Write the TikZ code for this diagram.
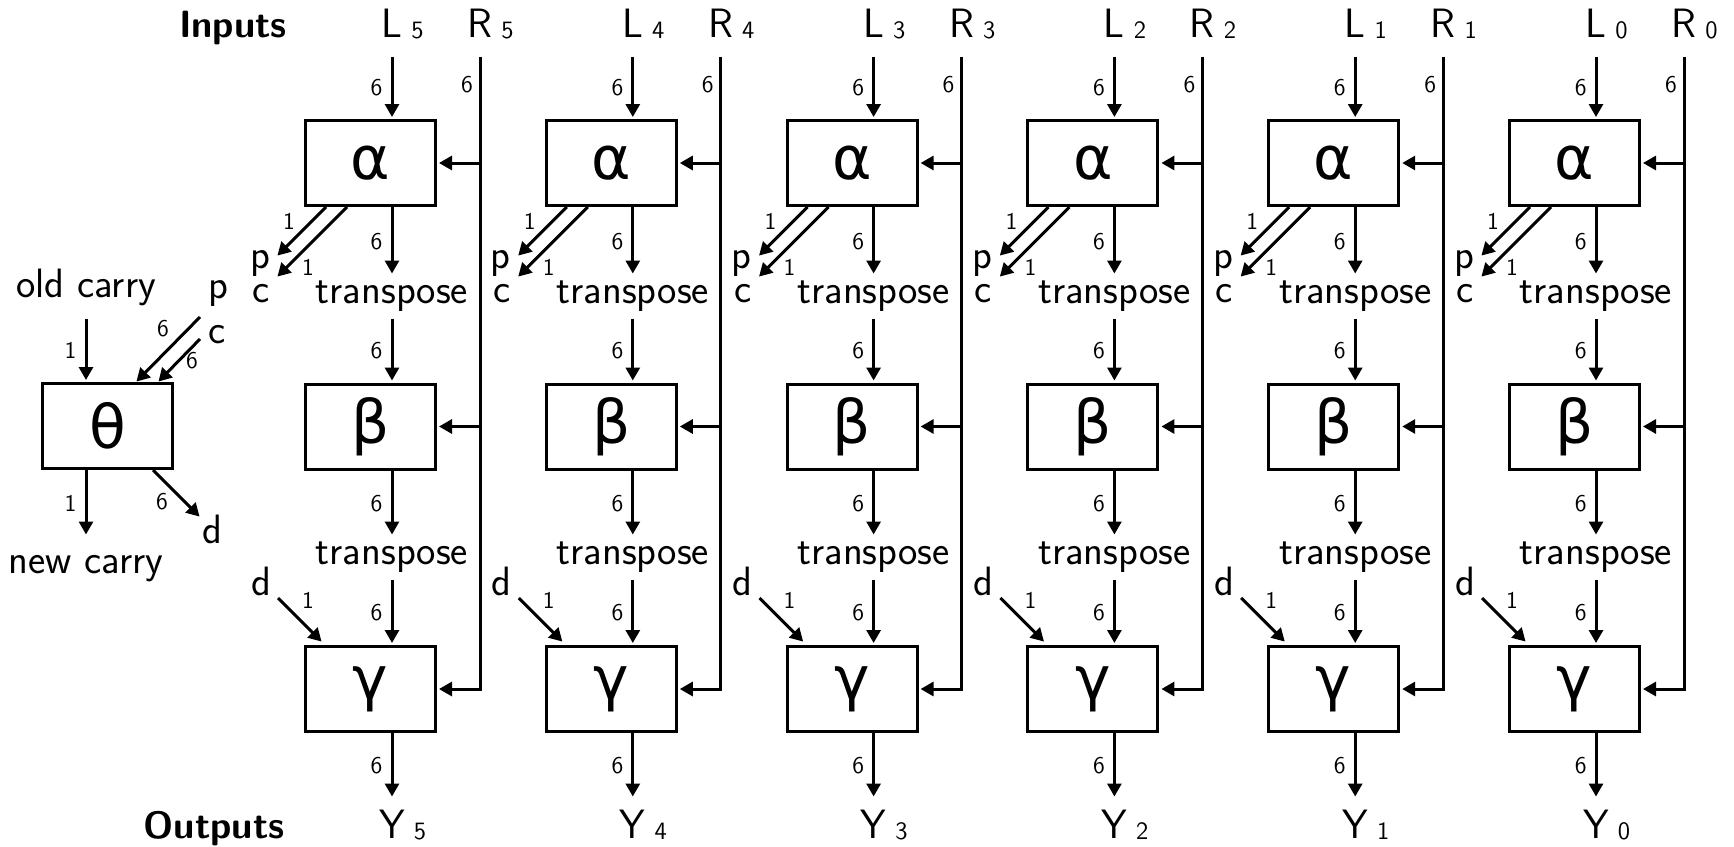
\documentclass[tikz,border=0pt]{standalone}
\usepackage{fontspec}
\newfontfamily\grk{DejaVu Sans}
\usetikzlibrary{arrows.meta}
\newcommand\mysub[1]{\rlap{\hspace{4.5pt}\raisebox{-0.8pt}{\fontsize{12.5}{14}\selectfont #1}}}
\begin{document}
\begin{tikzpicture}[x=0.5pt,y=-0.5pt,
  every node/.style={font=\sffamily\fontsize{20.5}{24}\selectfont, inner sep=0pt},
  line width=1.5pt,
  arr/.style={-{Triangle[length=6.5pt,width=7pt]}, shorten >=1pt},
  blk/.style={draw, line width=1.5pt, minimum width=65pt, minimum height=42.5pt, font=\grk\fontsize{30}{34}\selectfont},
  lbl/.style={font=\sffamily\fontsize{12}{14}\selectfont},
  hdr/.style={font=\sffamily\bfseries\fontsize{19}{22}\selectfont, anchor=base}
]
\useasboundingbox (0,0) rectangle (1734,846);

% headers
\node[hdr] (inp) at (233,37) {Inputs};
\node[hdr] (outp) at (214,838) {Outputs};

% theta block
\node[blk] (th) at (107.5,426) {θ};
\node[anchor=base, text depth=10pt] (oc) at (86,297) {old carry};
\draw[arr] (oc.south) -- (oc.south |- th.north) node[lbl,midway,left=4pt] (oc1) {1};
\node[anchor=base] (tp) at (218,298) {p};
\node[anchor=base] (tc) at (217,343) {c};
\coordinate (tpa) at (200,317);
\coordinate (tpe) at (135,383);
\coordinate (tca) at (200,339);
\coordinate (tce) at (157,383);
\draw[arr] (tpa) -- (tpe);
\draw[arr] (tca) -- (tce);
\node[lbl] (tp6) at (163,329) {6};
\node[lbl] (tc6) at (192,361) {6};
\node[anchor=base, text height=17.5pt] (nc) at (86,573) {new carry};
\draw[arr] (th.south -| nc.north) -- (nc.north) node[lbl,midway,left=4pt] (nc1) {1};
\node[anchor=base] (td) at (212,543) {d};
\coordinate (tda) at (153,470);
\coordinate (tde) at (201,518);
\draw[arr] (tda) -- (tde);
\node[lbl] (td6) at (162,502) {6};

% columns
\foreach \i [count=\k from 0] in {5,4,3,2,1,0} {
\begin{scope}[xshift=\k*120.4pt]
  \node[anchor=base, text depth=9pt] (L\i) at (392,37) {L\mysub{\i}};
  \node[anchor=base, text depth=9pt] (R\i) at (480,37) {R\mysub{\i}};
  \node[blk] (a\i) at (370.5,163) {α};
  \node[blk] (b\i) at (370.5,426.5) {β};
  \node[blk] (g\i) at (370.5,689) {γ};
  \node[anchor=base, text height=13pt, text depth=7pt] (t1\i) at (392,303) {transpose};
  \node[anchor=base, text height=13pt, text depth=7pt] (t2\i) at (392,564) {transpose};
  \node[anchor=base, text height=19pt] (Y\i) at (392,838) {Y\mysub{\i}};
  % vertical flow
  \draw[arr] (L\i.south) -- (L\i.south |- a\i.north) node[lbl,midway,left=4pt] {6};
  \draw[arr] (a\i.south -| t1\i.north) -- (t1\i.north) node[lbl,midway,left=4pt] {6};
  \draw[arr] (t1\i.south) -- (t1\i.south |- b\i.north) node[lbl,midway,left=4pt] {6};
  \draw[arr] (b\i.south -| t2\i.north) -- (t2\i.north) node[lbl,midway,left=4pt] {6};
  \draw[arr] (t2\i.south) -- (t2\i.south |- g\i.north) node[lbl,midway,left=4pt] {6};
  \draw[arr] (g\i.south -| Y\i.north) -- (Y\i.north) node[lbl,midway,left=4pt] {6};
  % R bus
  \draw[arr] (R\i.south) |- (g\i.east);
  \node[lbl] (r6\i) at (467,85) {6};
  \draw[arr] (R\i.south |- a\i.east) -- (a\i.east);
  \draw[arr] (R\i.south |- b\i.east) -- (b\i.east);
  % p, c outputs
  \node[anchor=base] (p\i) at (260,268) {p};
  \node[anchor=base] (c\i) at (261,302) {c};
  \coordinate (pa\i) at (326,207);
  \coordinate (pe\i) at (276,257);
  \coordinate (ca\i) at (347,207);
  \coordinate (ce\i) at (276,278);
  \draw[arr] (pa\i) -- (pe\i);
  \draw[arr] (ca\i) -- (ce\i);
  \node[lbl] (p1\i) at (289,221) {1};
  \node[lbl] (c1\i) at (308,267) {1};
  % d input
  \node[anchor=base] (d\i) at (261,595) {d};
  \coordinate (da\i) at (278,598);
  \coordinate (de\i) at (323,643);
  \draw[arr] (da\i) -- (de\i);
  \node[lbl] (d1\i) at (308,600) {1};
\end{scope}
}
\end{tikzpicture}
\end{document}
